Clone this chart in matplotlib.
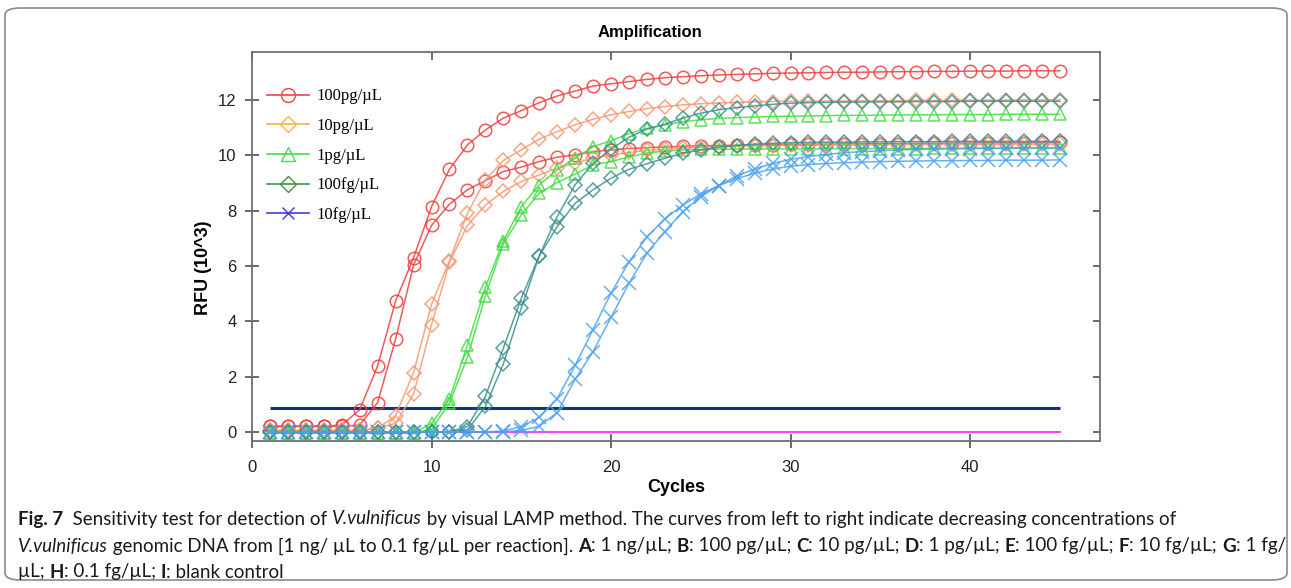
import numpy as np
import matplotlib
matplotlib.use("Agg")
import matplotlib.pyplot as plt
from matplotlib.lines import Line2D
from matplotlib.patches import FancyBboxPatch

# Amplification data (RFU in units of 10^3) ---------------------------
cycles = np.arange(1, 46)

red_a = [0.2, 0.2, 0.2, 0.2, 0.25, 0.8, 2.39, 4.73, 6.29, 8.14,
         9.49, 10.37, 10.91, 11.34, 11.61, 11.90, 12.14, 12.32, 12.50, 12.58,
         12.66, 12.74, 12.80, 12.84, 12.87, 12.90, 12.92, 12.94, 12.96, 12.97,
         12.98, 12.99, 13.00, 13.00, 13.01, 13.02, 13.02, 13.03, 13.03, 13.04,
         13.04, 13.04, 13.05, 13.05, 13.05]
red_b = [0.2, 0.2, 0.2, 0.2, 0.2, 0.25, 1.06, 3.36, 6.03, 7.46,
         8.23, 8.75, 9.08, 9.41, 9.57, 9.77, 9.93, 10.01, 10.13, 10.19,
         10.24, 10.27, 10.30, 10.32, 10.34, 10.35, 10.36, 10.37, 10.38, 10.39,
         10.40, 10.40, 10.41, 10.41, 10.42, 10.42, 10.43, 10.43, 10.44, 10.44,
         10.45, 10.45, 10.45, 10.46, 10.46]

salmon_a = [0.05, 0.05, 0.05, 0.05, 0.05, 0.05, 0.13, 0.59, 2.14, 4.61,
            6.19, 7.90, 9.11, 9.81, 10.19, 10.58, 10.85, 11.10, 11.30, 11.46,
            11.58, 11.68, 11.76, 11.82, 11.86, 11.89, 11.91, 11.93, 11.94, 11.95,
            11.95, 11.96, 11.96, 11.97, 11.97, 11.97, 11.98, 11.98, 11.98, 11.99,
            11.99, 11.99, 12.00, 12.00, 12.00]
salmon_b = [0.05, 0.05, 0.05, 0.05, 0.05, 0.05, 0.13, 0.31, 1.37, 3.87,
            6.13, 7.46, 8.20, 8.69, 9.05, 9.29, 9.53, 9.71, 9.90, 10.00,
            10.10, 10.17, 10.22, 10.26, 10.29, 10.31, 10.33, 10.34, 10.35, 10.36,
            10.36, 10.37, 10.37, 10.38, 10.38, 10.38, 10.39, 10.39, 10.39, 10.40,
            10.40, 10.40, 10.40, 10.40, 10.40]

green_a = [-0.05, -0.05, -0.05, -0.05, -0.05, -0.05, -0.05, -0.05, -0.05, 0.31,
           1.18, 3.14, 5.22, 6.90, 8.14, 8.93, 9.47, 9.89, 10.31, 10.52,
           10.78, 10.97, 11.10, 11.21, 11.28, 11.33, 11.36, 11.38, 11.40, 11.41,
           11.42, 11.43, 11.44, 11.44, 11.45, 11.45, 11.46, 11.46, 11.47, 11.47,
           11.47, 11.48, 11.48, 11.48, 11.48]
green_b = [-0.05, -0.05, -0.05, -0.05, -0.05, -0.05, -0.05, -0.05, -0.05, 0.10,
           1.04, 2.70, 4.92, 6.80, 7.84, 8.63, 9.01, 9.32, 9.65, 9.77,
           9.94, 10.08, 10.15, 10.19, 10.21, 10.22, 10.22, 10.23, 10.23, 10.23,
           10.23, 10.24, 10.24, 10.24, 10.24, 10.24, 10.24, 10.25, 10.25, 10.25,
           10.25, 10.25, 10.25, 10.25, 10.25]

teal_a = [0.0, 0.0, 0.0, 0.0, 0.0, 0.0, 0.0, 0.0, 0.0, 0.0,
          0.0, 0.19, 1.28, 3.02, 4.83, 6.36, 7.78, 8.93, 9.71, 10.22,
          10.65, 10.94, 11.12, 11.34, 11.52, 11.64, 11.72, 11.78, 11.84, 11.88,
          11.90, 11.91, 11.92, 11.92, 11.93, 11.93, 11.94, 11.94, 11.94, 11.95,
          11.95, 11.95, 11.95, 11.95, 11.95]
teal_b = [0.0, 0.0, 0.0, 0.0, 0.0, 0.0, 0.0, 0.0, 0.0, 0.0,
          0.0, 0.07, 0.92, 2.45, 4.47, 6.36, 7.42, 8.26, 8.75, 9.17,
          9.49, 9.69, 9.89, 10.07, 10.19, 10.29, 10.35, 10.40, 10.43, 10.45,
          10.46, 10.47, 10.47, 10.48, 10.48, 10.49, 10.49, 10.49, 10.50, 10.50,
          10.50, 10.50, 10.50, 10.50, 10.50]

blue_a = [0.0, 0.0, 0.0, 0.0, 0.0, 0.0, 0.0, 0.0, 0.0, 0.0,
          0.0, 0.0, 0.0, 0.03, 0.19, 0.52, 1.20, 2.40, 3.70, 5.01,
          6.15, 7.05, 7.70, 8.20, 8.60, 8.90, 9.15, 9.35, 9.50, 9.60,
          9.66, 9.70, 9.73, 9.75, 9.77, 9.78, 9.79, 9.80, 9.80, 9.81,
          9.81, 9.82, 9.82, 9.82, 9.83]
blue_b = [0.0, 0.0, 0.0, 0.0, 0.0, 0.0, 0.0, 0.0, 0.0, 0.0,
          0.0, 0.0, 0.0, 0.0, 0.05, 0.20, 0.70, 1.90, 2.90, 4.14,
          5.37, 6.46, 7.24, 7.96, 8.50, 8.90, 9.25, 9.50, 9.70, 9.85,
          9.95, 10.03, 10.09, 10.13, 10.16, 10.19, 10.21, 10.22, 10.23, 10.24,
          10.25, 10.25, 10.26, 10.26, 10.26]

blank = [0.0] * 45
threshold = 0.86

legend_labels = ["100pg/\u00b5L", "10pg/\u00b5L", "1pg/\u00b5L", "100fg/\u00b5L", "10fg/\u00b5L"]

# Figure ----------------------------------------------------------------
fig = plt.figure(figsize=(12.91, 5.88), dpi=100)
W, H = 1291, 588

frame = FancyBboxPatch((5 / W, 8 / H), 1282 / W, 572 / H,
                       boxstyle="round,pad=0,rounding_size=0.012",
                       transform=fig.transFigure, fill=False,
                       edgecolor="#8a8a8a", linewidth=1.2)
fig.patches.append(frame)

ax = fig.add_axes([252 / W, 1 - 441 / H, 848 / W, 389 / H])

ax.plot(cycles, blank, color="#ff44ff", lw=1.5, zorder=1)
ax.hlines(threshold, 1, 45, color="#1a2f80", lw=2.2, zorder=2)

series = [
    (red_a, "#f03c3c", "o", 9),
    (red_b, "#f03c3c", "o", 9),
    (salmon_a, "#f89770", "D", 7),
    (salmon_b, "#f89770", "D", 7),
    (green_a, "#3ede3e", "^", 9),
    (green_b, "#3ede3e", "^", 9),
    (teal_a, "#3b9090", "D", 7),
    (teal_b, "#3b9090", "D", 7),
    (blue_a, "#4aa0f0", "x", 10),
    (blue_b, "#4aa0f0", "x", 10),
]
for vals, col, mk, ms in series:
    ax.plot(cycles, vals, color=col, lw=1.1, marker=mk, ms=ms,
            mfc="none", mec=col, mew=1.1, alpha=0.85, zorder=3)

ax.set_xlim(0, 47.24)
ax.set_ylim(-0.33, 13.73)
ax.set_xticks([0, 10, 20, 30, 40])
ax.set_yticks([0, 2, 4, 6, 8, 10, 12])
for s in ax.spines.values():
    s.set_color("#707070")
    s.set_linewidth(1.3)
ax.tick_params(axis="both", which="major", direction="inout", length=10,
               width=1.2, color="#505050", labelsize=12, labelcolor="#222222")
ax.tick_params(axis="x", pad=9)
ax.tick_params(axis="y", pad=6)
ax.tick_params(top=True, right=True, labeltop=False, labelright=False)
for t in ax.xaxis.get_major_ticks():
    t.tick2line.set_markersize(6)
    t.tick2line.set_marker(3)
for t in ax.yaxis.get_major_ticks():
    t.tick2line.set_markersize(5)
    t.tick2line.set_marker(0)

# legend uses its own colours
handles = [
    Line2D([], [], color="#ee4444", marker="o", ms=10, mfc="none", lw=1.2),
    Line2D([], [], color="#f5b342", marker="D", ms=8, mfc="none", lw=1.2),
    Line2D([], [], color="#44dd44", marker="^", ms=10, mfc="none", lw=1.2),
    Line2D([], [], color="#3f943f", marker="D", ms=8, mfc="none", lw=1.2),
    Line2D([], [], color="#3c3cdc", marker="x", ms=9, mfc="none", lw=1.2),
]
ax.legend(handles, legend_labels, loc="upper left", bbox_to_anchor=(0.0, 0.945),
          frameon=False, handlelength=2.5, handletextpad=0.45, labelspacing=0.82,
          prop={"family": "Liberation Serif", "size": 12})

fig.text(650 / W, 1 - 32 / H, "Amplification", ha="center", va="center",
         fontsize=12, fontweight="bold", family="Liberation Sans")
fig.text(676 / W, 1 - 488 / H, "Cycles", ha="center", va="center",
         fontsize=13, fontweight="bold", family="Liberation Sans")
fig.text(203 / W, 1 - 268 / H, "RFU (10^3)", ha="center", va="center",
         rotation=90, fontsize=13, fontweight="bold", family="Liberation Sans")
for lab in ax.get_xticklabels() + ax.get_yticklabels():
    lab.set_family("Liberation Sans")

# Caption ---------------------------------------------------------------
cap_font = "Lato"
cap_size = 13.5
styles = {"n": {}, "b": {"fontweight": "bold"}, "i": {"fontstyle": "italic"}}
lines = [
    [("Fig. 7", "b"), ("  Sensitivity test for detection of ", "n"), ("V.vulnificus", "i"),
     (" by visual LAMP method. The curves from left to right indicate decreasing concentrations of", "n")],
    [("V.vulnificus", "i"), (" genomic DNA from [1 ng/ \u00b5L to 0.1 fg/\u00b5L per reaction]. ", "n"),
     ("A", "b"), (": 1 ng/\u00b5L; ", "n"), ("B", "b"), (": 100 pg/\u00b5L; ", "n"),
     ("C", "b"), (": 10 pg/\u00b5L; ", "n"), ("D", "b"), (": 1 pg/\u00b5L; ", "n"),
     ("E", "b"), (": 100 fg/\u00b5L; ", "n"), ("F", "b"), (": 10 fg/\u00b5L; ", "n"),
     ("G", "b"), (": 1 fg/", "n")],
    [("\u00b5L; ", "n"), ("H", "b"), (": 0.1 fg/\u00b5L; ", "n"), ("I", "b"), (": blank control", "n")],
]
line_y = [519, 546, 572]

renderer = fig.canvas.get_renderer()
for runs, yy in zip(lines, line_y):
    x = 18
    for txt, st in runs:
        t = fig.text(x / W, 1 - yy / H, txt, ha="left", va="center",
                     fontsize=cap_size, family=cap_font, color="#1a1a1a", **styles[st])
        x += t.get_window_extent(renderer).width

fig.savefig("out.png", dpi=100)
